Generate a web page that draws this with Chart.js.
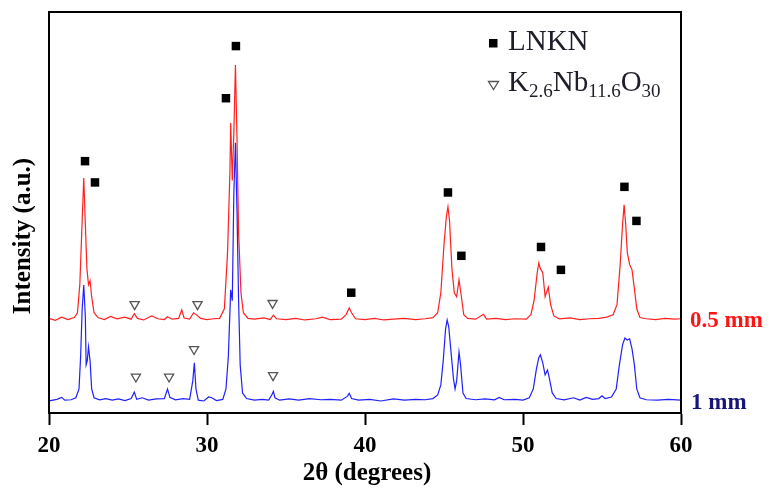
<!DOCTYPE html>
<html>
<head>
<meta charset="utf-8">
<script src="https://cdn.jsdelivr.net/npm/chart.js@4.4.1/dist/chart.umd.min.js"></script>
<style>
  html, body { margin: 0; padding: 0; background: #fff; }
  #wrap { position: relative; width: 776px; height: 491px; }
</style>
</head>
<body>
<div id="wrap"><canvas id="c" width="776" height="491"></canvas></div>
<script>
// ---- Data ----
const xTicks = [20, 30, 40, 50, 60];

const blueX = [20.0,20.5,20.8,21.0,21.4,21.7,21.9,22.0,22.1,22.2,22.3,22.35,22.42,22.5,22.6,22.7,22.85,23.2,23.6,24.0,24.4,24.8,25.2,25.4,25.55,25.9,26.3,26.8,27.3,27.5,27.65,28.0,28.5,28.9,29.1,29.2,29.3,29.45,29.8,30.1,30.3,30.6,31.0,31.2,31.35,31.5,31.6,31.7,31.8,31.9,32.0,32.1,32.25,32.5,33.0,33.5,33.9,34.1,34.2,34.3,34.6,35.2,35.8,36.5,37.2,37.8,38.5,38.9,39.0,39.15,39.6,40.3,41.0,41.8,42.5,43.2,43.8,44.3,44.6,44.8,44.95,45.1,45.2,45.3,45.45,45.6,45.7,45.8,45.95,46.05,46.2,46.4,47.0,47.6,48.2,48.5,48.8,49.5,50.0,50.4,50.65,50.85,51.0,51.1,51.25,51.4,51.55,51.65,51.85,52.1,52.6,53.2,53.6,54.0,54.4,54.8,55.0,55.2,55.6,55.9,56.1,56.3,56.45,56.6,56.75,56.9,57.05,57.2,57.4,57.8,58.5,59.2,60.0];
const blueY = [3.0,3.4,3.9,3.2,3.3,3.8,6,14,26,31.9,24,12,13,16.5,13,6,3.8,3.3,3.6,3.2,3.5,3.1,3.6,5.2,3.4,3.8,3.2,3.5,3.6,6.0,3.9,3.3,3.6,3.4,8,12.5,6,3.2,3.0,4.0,3.8,3.1,3.4,6,14,30.7,28,55,67.4,50,28,12,5,3.6,3.2,3.4,3.2,4.5,5.4,3.8,3.2,3.5,3.2,3.6,3.3,3.4,3.2,4.2,4.9,3.6,3.2,3.4,3.0,3.5,3.2,3.4,3.3,3.6,4.5,7,13,21,23.2,21.5,15,8.5,6,8,15.2,12,5,3.6,3.3,3.5,3.3,3.9,3.3,3.4,3.2,3.8,6,11,13.8,14.5,12.5,9.5,10.7,9,5,3.6,3.3,3.8,3.2,3.9,3.4,3.6,4.3,3.6,4.0,6,12,17,18.7,18.2,18.5,16,12,6,3.8,3.3,3.2,3.4,3.2];

const redX = [20.0,20.4,20.8,21.2,21.6,21.8,21.95,22.1,22.2,22.3,22.4,22.5,22.6,22.7,22.85,23.1,23.5,23.9,24.3,24.8,25.2,25.4,25.6,26.0,26.5,26.9,27.3,27.5,27.8,28.2,28.4,28.55,28.9,29.15,29.3,29.6,30.0,30.4,30.8,31.1,31.3,31.45,31.5,31.6,31.7,31.8,31.9,32.0,32.15,32.3,32.6,33.0,33.6,34.0,34.2,34.4,35.0,35.6,36.2,36.9,37.3,37.8,38.5,38.8,39.0,39.15,39.4,40.0,40.6,41.2,41.8,42.5,43.2,43.8,44.3,44.6,44.8,45.0,45.15,45.25,45.35,45.5,45.65,45.8,45.95,46.1,46.25,46.5,47.0,47.5,47.7,48.3,48.9,49.5,50.2,50.5,50.7,50.9,51.0,51.1,51.25,51.4,51.6,51.75,51.95,52.3,53.0,53.6,54.2,54.8,55.3,55.7,55.95,56.15,56.3,56.4,56.5,56.6,56.75,56.9,57.05,57.2,57.4,57.8,58.4,59.0,59.6,60.0];
const redY = [23.6,23.1,23.9,23.3,23.8,25,32,48,58.6,47,36,32,33,29,25,23.8,23.3,24.1,23.5,23.9,23.4,24.8,23.6,23.2,24.2,23.5,23.3,24.0,23.4,23.6,25.7,23.7,23.4,25.0,24.6,23.6,23.3,23.5,23.6,26,40,60,72.3,58,70,86.8,68,45,30,25,23.6,23.4,23.7,23.3,24.4,23.5,23.3,23.6,23.2,23.5,23.9,23.3,23.4,24.5,26.2,25,23.5,23.3,23.6,23.2,23.4,23.6,23.3,23.5,23.8,25,30,42,49,51.4,48,36,30,29,33.2,29,24.5,23.6,23.4,24.6,23.4,23.6,23.3,23.5,23.4,24.5,28,35,37.4,36,35,29,31.4,27,24.2,23.5,23.7,23.3,23.5,23.6,23.9,24.5,27,37,47,51.9,47,40,37,35.7,31,26,23.8,23.5,23.3,23.6,23.4,23.5];

const lnknX = [22.28,22.91,31.2,31.83,39.13,45.25,46.1,51.14,52.4,56.42,57.18];
const lnknY = [62.8,57.5,78.5,91.5,30.0,55.0,39.2,41.4,35.7,56.4,47.9];

const knoX = [25.42,29.4,34.15,25.5,27.6,29.18,34.18];
const knoY = [27.1,27.1,27.4,9.05,9.05,15.9,9.4];

const seriesLabels = ['0.5 mm', '1 mm'];
const legendLabels = ['LNKN', 'K2.6Nb11.6O30'];

// ---- Build ----
const toPts = (xs, ys) => xs.map((x, i) => ({x: x, y: ys[i]}));

const SERIF = "'Liberation Serif', 'Times New Roman', serif";

const decor = {
  id: 'decor',
  afterDraw(chart) {
    const ctx = chart.ctx;
    const a = chart.chartArea;
    ctx.save();
    // frame
    ctx.strokeStyle = '#000';
    ctx.lineWidth = 2;
    ctx.strokeRect(a.left, a.top, a.right - a.left, a.bottom - a.top);

    // legend
    ctx.fillStyle = '#000';
    ctx.fillRect(489, 39, 8.5, 8.5);
    ctx.beginPath();
    ctx.moveTo(488.5, 81.5); ctx.lineTo(498.5, 81.5); ctx.lineTo(493.5, 89.5); ctx.closePath();
    ctx.fillStyle = '#fff'; ctx.fill();
    ctx.strokeStyle = '#555'; ctx.lineWidth = 1.3; ctx.stroke();

    ctx.fillStyle = '#1e1e28';
    ctx.textBaseline = 'alphabetic';
    ctx.textAlign = 'left';
    const big = "29px " + SERIF, small = "19px " + SERIF;
    ctx.font = big;
    ctx.fillText(legendLabels[0], 508, 50);
    // K2.6Nb11.6O30 with subscripts
    const parts = [['K', big, 0], ['2.6', small, 6], ['Nb', big, 0], ['11.6', small, 6], ['O', big, 0], ['30', small, 6]];
    let x = 508;
    parts.forEach(p => {
      ctx.font = p[1];
      ctx.fillText(p[0], x, 91 + p[2]);
      x += ctx.measureText(p[0]).width;
    });

    // series labels
    ctx.font = "bold 23px " + SERIF;
    ctx.textBaseline = 'middle';
    ctx.fillStyle = '#ff1414';
    ctx.fillText(seriesLabels[0], 690, 321);
    ctx.fillStyle = '#16167a';
    ctx.fillText(seriesLabels[1], 691, 403);

    // axis titles
    ctx.fillStyle = '#000';
    ctx.textAlign = 'center';
    ctx.font = "bold 25px " + SERIF;
    ctx.fillText('2θ (degrees)', 367, 474);
    ctx.save();
    ctx.translate(24, 236);
    ctx.rotate(-Math.PI / 2);
    ctx.font = "bold 25px " + SERIF;
    ctx.fillText('Intensity (a.u.)', 0, 0);
    ctx.restore();
    ctx.restore();
  }
};

new Chart(document.getElementById('c'), {
  type: 'scatter',
  data: {
    datasets: [
      { label: seriesLabels[0], data: toPts(redX, redY), showLine: true, borderColor: 'rgba(255,20,20,0.95)', borderWidth: 1.2, pointRadius: 0, tension: 0, order: 3 },
      { label: seriesLabels[1], data: toPts(blueX, blueY), showLine: true, borderColor: 'rgba(20,20,255,0.95)', borderWidth: 1.2, pointRadius: 0, tension: 0, order: 2 },
      { label: legendLabels[0], data: toPts(lnknX, lnknY), showLine: false, pointStyle: 'rect', pointRadius: 6, backgroundColor: '#000', borderColor: '#000', borderWidth: 0, order: 1 },
      { label: legendLabels[1], data: toPts(knoX, knoY), showLine: false, pointStyle: 'triangle', rotation: 180, pointRadius: 5.3, backgroundColor: '#fff', borderColor: '#555', borderWidth: 1.3, order: 0 }
    ]
  },
  options: {
    responsive: false,
    animation: false,
    events: [],
    layout: { padding: { top: 12, right: 95, left: 0, bottom: 0 } },
    plugins: { legend: { display: false }, tooltip: { enabled: false } },
    scales: {
      x: {
        type: 'linear', min: 20, max: 60,
        afterFit: s => { s.height = 78; },
        afterBuildTicks: s => { s.ticks = xTicks.map(v => ({value: v})); },
        ticks: { font: { family: SERIF, size: 23, weight: 'bold' }, color: '#000', padding: 7, maxRotation: 0 },
        grid: { display: true, drawOnChartArea: false, drawTicks: true, tickLength: 12, tickColor: '#000', tickWidth: 2 },
        border: { display: true, color: '#000', width: 2 }
      },
      y: {
        type: 'linear', min: 0, max: 100,
        afterFit: s => { s.width = 49; },
        ticks: { display: false },
        grid: { display: false },
        border: { display: true, color: '#000', width: 2 }
      }
    }
  },
  plugins: [decor]
});
</script>
</body>
</html>
